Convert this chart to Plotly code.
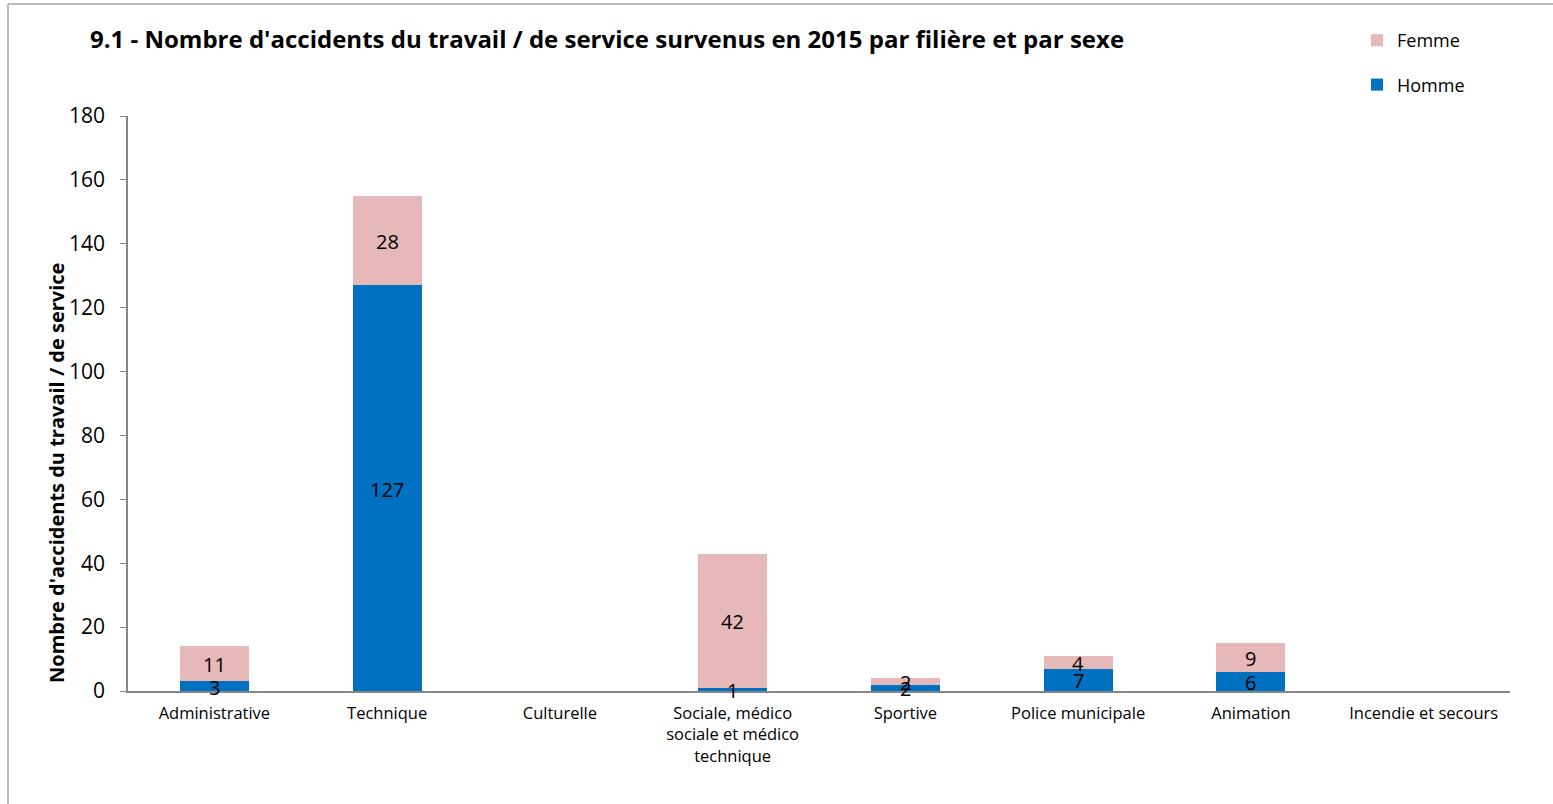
import plotly.graph_objects as go

# Catégories (filières) et valeurs par sexe
filieres = ["Administrative", "Technique", "Culturelle",
            "Sociale, médico<br>sociale et médico<br>technique",
            "Sportive", "Police municipale", "Animation", "Incendie et secours"]
homme = [3, 127, None, 1, 2, 7, 6, None]
femme = [11, 28, None, 42, 2, 4, 9, None]

FONT = "Open Sans"
W, H = 1553, 804
L, R, T, B = 128, 43, 116, 113

fig = go.Figure()
fig.add_trace(go.Bar(
    x=filieres, y=homme, name="Homme",
    marker=dict(color="#0070C0", line=dict(width=0)),
    legendgroup="h", legendrank=2, width=0.4,
))
fig.add_trace(go.Bar(
    x=filieres, y=femme, name="Femme",
    marker=dict(color="#E6B9B8", line=dict(width=0)),
    legendgroup="f", legendrank=1, width=0.4,
))

# étiquettes au milieu de chaque segment (débordent sous l'axe comme dans Excel)
for cat, h, f in zip(filieres, homme, femme):
    if h is None:
        continue
    for mid, val in [(h / 2, h), (h + f / 2, f)]:
        fig.add_annotation(
            x=cat, y=mid, text=str(val), showarrow=False, yshift=-1,
            xanchor="center", yanchor="middle",
            font=dict(size=20, color="black", family=FONT),
        )

# cadre gris (gauche et haut)
pw, ph = W - L - R, H - T - B
fig.add_shape(type="line", xref="paper", yref="paper",
              x0=(8 - L) / pw, x1=(8 - L) / pw, y0=(H - B - H) / ph, y1=(H - B - 4) / ph,
              line=dict(color="#a6a6a6", width=1.5))
fig.add_shape(type="line", xref="paper", yref="paper",
              x0=(8 - L) / pw, x1=(W - L) / pw, y0=(H - B - 4) / ph, y1=(H - B - 4) / ph,
              line=dict(color="#a6a6a6", width=1.5))

fig.add_annotation(
    text="<b>Nombre d'accidents du travail / de service</b>",
    xref="paper", yref="paper", x=(57 - L) / pw, y=(H - B - 473) / ph,
    xanchor="center", yanchor="middle",
    textangle=-90, showarrow=False, font=dict(size=20, color="black", family=FONT),
)

fig.update_layout(
    width=W, height=H,
    barmode="stack",
    plot_bgcolor="white", paper_bgcolor="white",
    margin=dict(l=L, r=R, t=T, b=B, autoexpand=False),
    font=dict(family=FONT, color="black"),
    title=dict(
        text="<b>9.1 - Nombre d'accidents du travail / de service survenus en 2015 par filière et par sexe</b>",
        x=90 / W, xanchor="left", y=1 - 40 / H, yanchor="middle",
        font=dict(size=24, color="black", family=FONT),
    ),
    legend=dict(
        x=(1357 - L) / pw, xanchor="left", y=(H - B - 22) / ph, yanchor="top",
        traceorder="grouped", tracegroupgap=18,
        font=dict(size=18, family=FONT), itemwidth=30,
    ),
    xaxis=dict(
        showline=True, linecolor="#868686", linewidth=2, automargin=False,
        ticks="", tickfont=dict(size=16.5), ticklabelstandoff=6,
    ),
    yaxis=dict(
        range=[0, 180], dtick=20, showgrid=False, zeroline=False, automargin=False,
        showline=True, linecolor="#868686", linewidth=1.5,
        ticks="outside", ticklen=6, tickcolor="#868686",
        tickfont=dict(size=21), ticklabelstandoff=11,
    ),
)

fig.write_html("out.html", config={"displayModeBar": False},
               post_script="document.body.style.margin='0';")
